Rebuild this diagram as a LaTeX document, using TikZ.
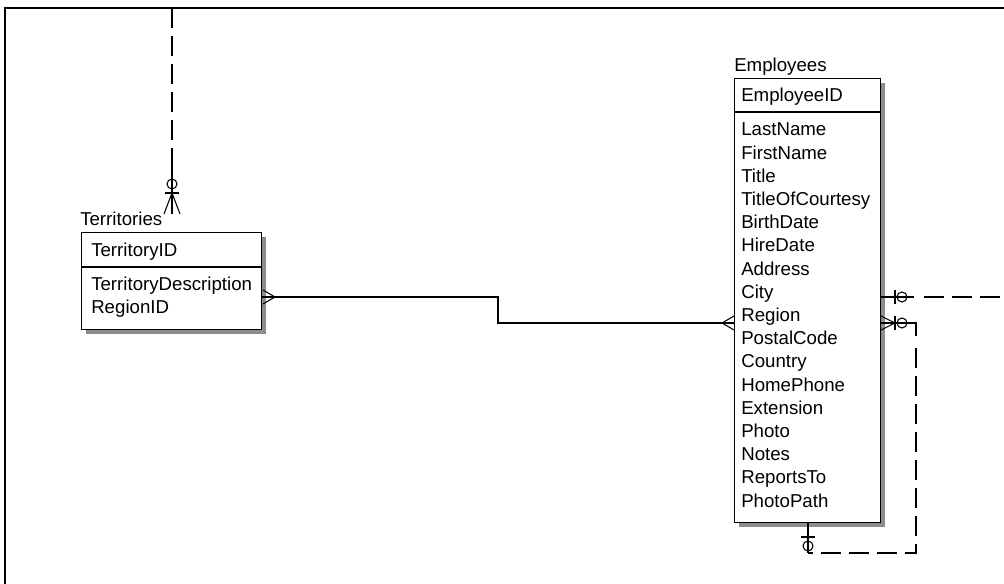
\documentclass[tikz,border=0pt]{standalone}
\usepackage{fontspec}
\setmainfont{Liberation Sans}
\usetikzlibrary{positioning}

\tikzset{
  ent/.style={draw, line width=0.9pt, fill=white, inner sep=0pt, anchor=north west},
  shade/.style={fill=black!45},
  fld/.style={anchor=base west, inner sep=0pt, font=\fontsize{14}{16}\selectfont},
  rel/.style={line width=0.8pt},
  nonid/.style={rel, dash pattern=on 15pt off 6pt},
}

\begin{document}
\begin{tikzpicture}[x=0.75pt,y=-0.75pt]
\useasboundingbox (0,0) rectangle (1004,584);
% frame
\draw[line width=1.3pt] (5,584) -- (5,8) -- (1004,8);

% Territories
\fill[shade] (86,237) rectangle (266,334);
\node[ent, minimum width=135pt, minimum height=72.75pt] (terr) at (81,232) {};
\draw[line width=0.8pt] (81,267) -- (261,267);
\node[fld] (terrlbl) at (80,226) {Territories};
\node[fld] (terrid) at (91,257) {TerritoryID};
\node[fld] (terrdesc) at (91,291) {TerritoryDescription};
\node[fld] (regid) at (91,314) {RegionID};

% Employees
\fill[shade] (739,83) rectangle (885,527);
\node[ent, minimum width=109.5pt, minimum height=333pt] (emp) at (734,78) {};
\draw[line width=0.8pt] (734,112) -- (880,112);
\node[fld] (emplbl) at (734,72) {Employees};
\node[fld] (empid) at (741,102) {EmployeeID};
\foreach \f [count=\i from 0] in {LastName,FirstName,Title,TitleOfCourtesy,BirthDate,HireDate,Address,City,Region,PostalCode,Country,HomePhone,Extension,Photo,Notes,ReportsTo,PhotoPath}
  \node[fld] (emp-\f) at (741,{136+23.2*\i}) {\f};

% connector ends
\coordinate (regtop) at (172,8);
\coordinate (terr-up) at (172,214);
\coordinate (terr-r) at (261,297);
\coordinate (emp-l) at (734,323);
\coordinate (emp-r1) at (880,297);
\coordinate (emp-r2) at (880,323);
\coordinate (emp-b) at (808,522);
\coordinate (out-r) at (1004,297);

% Region -> Territories
\draw[nonid] (regtop) -- (172,163);
\draw[rel] (172,163) -- (terr-up);
\draw[rel] (172,184) circle (5);
\draw[rel] (165,193) -- (179,193);
\draw[rel] (164,214) -- (172,193) -- (180,214);

% Territories -- Employees
\draw[rel] (terr-r) -- (498,297) -- (498,323) -- (emp-l);
\draw[rel] (263,290) -- (275,297) -- (263,304);
\draw[rel] (734,316) -- (722,323) -- (734,330);

% Employees -> right
\draw[rel] (emp-r1) -- (914,297);
\draw[nonid] (924,297) -- (out-r);
\draw[rel] (895,290) -- (895,304);
\draw[rel] (902,297) circle (5);

% Employees self
\draw[rel] (emp-r2) -- (916,323) -- (916,336);
\draw[nonid] (916,348) -- (916,553) -- (808,553);
\draw[rel] (808,553) -- (emp-b);
\draw[rel] (881,316) -- (895,323) -- (881,330);
\draw[rel] (895,316) -- (895,330);
\draw[rel] (902,323) circle (5);
\draw[rel] (801,537) -- (815,537);
\draw[rel] (808,546) circle (5);
\end{tikzpicture}
\end{document}
